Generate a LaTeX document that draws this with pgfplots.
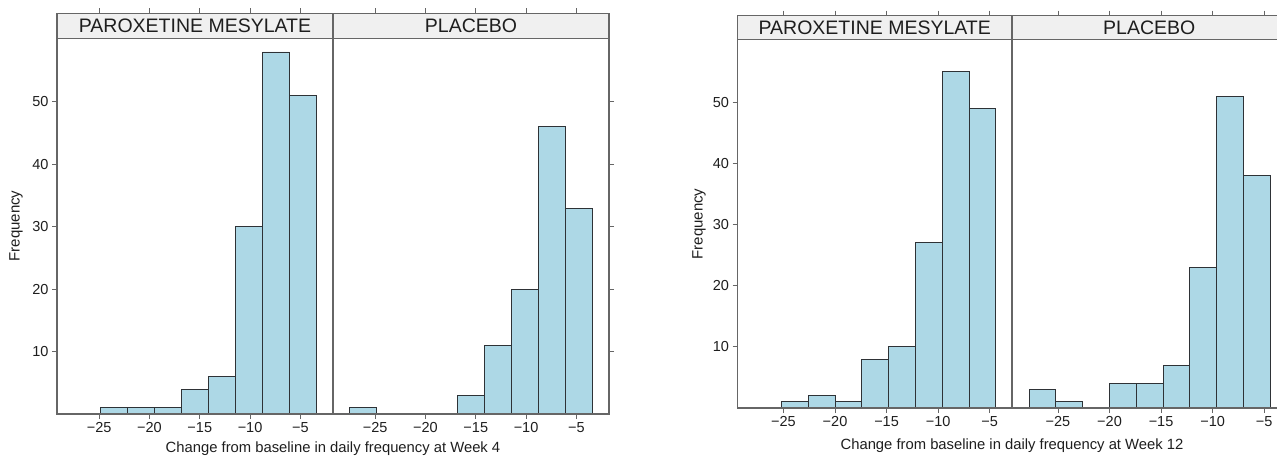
\documentclass[border=0pt]{standalone}
\usepackage{pgfplots}
\pgfplotsset{compat=1.18}
\usepackage{fontspec}
\setmainfont{Liberation Sans}
\definecolor{barfill}{HTML}{ADD8E6}
\definecolor{baredge}{HTML}{2E3236}
\definecolor{framegray}{HTML}{666666}
\definecolor{stripbg}{HTML}{F0F0F0}
\definecolor{txt}{HTML}{1E1E1E}
\pgfplotsset{
  panel/.style={scale only axis, axis on top, clip=false, anchor=south west,
    ymin=0,
    xtick={-25,-20,-15,-10,-5}, xticklabels={−25,−20,−15,−10,−5},
    ytick={10,20,30,40,50},
    tick align=outside, major tick length=5pt,
    tick style={draw=framegray, line width=0.9pt},
    axis line style={draw=framegray, line width=1.2pt},
    xtick pos=both, xticklabel pos=lower,
    tick label style={font=\fontsize{14.5}{17}\selectfont, text=txt}},
  leftpanel/.style={panel, ytick pos=left, yticklabel pos=left, yticklabels={10,20,30,40,50}},
  rightpanel/.style={panel, ytick pos=right, yticklabels={}},
  hist/.style={ybar interval, fill=barfill, draw=baredge, line width=0.9pt},
}
\newcommand\strip[3]{%
  \draw[draw=framegray, line width=1.2pt, fill=stripbg] (rel axis cs:0,#1) rectangle (rel axis cs:1,1);
  \node[font=\fontsize{19.5}{22}\selectfont, text=txt, inner sep=0pt] at (rel axis cs:0.5,#2) {#3};
}
\begin{document}
\begin{tikzpicture}
\path[use as bounding box] (0pt,0pt) rectangle (1277pt,456pt);
\begin{scope}
\clip (0pt,0pt) rectangle (1277pt,456pt);
% ---------- Week 4 ----------
\begin{axis}[leftpanel, at={(57pt,42pt)}, width=276pt, height=400.7pt,
  xmin=-29.2, xmax=-1.75, ymax=64.2]
\addplot[hist] coordinates {(-24.84,1) (-22.16,1) (-19.48,1) (-16.80,4) (-14.12,6) (-11.44,30) (-8.76,58) (-6.08,51) (-3.40,51)};
\strip{0.9377}{0.9688}{PAROXETINE MESYLATE}
\end{axis}
\begin{axis}[rightpanel, at={(333pt,42pt)}, width=276pt, height=400.7pt,
  xmin=-29.2, xmax=-1.75, ymax=64.2]
\addplot[hist] coordinates {(-27.52,1) (-24.84,1)};
\addplot[hist] coordinates {(-16.80,3) (-14.12,11) (-11.44,20) (-8.76,46) (-6.08,33) (-3.40,33)};
\strip{0.9377}{0.9688}{PLACEBO}
\end{axis}
\node[rotate=90, font=\fontsize{15}{18}\selectfont, text=txt] at (16pt,230pt) {Frequency};
\node[anchor=base, font=\fontsize{14.8}{18}\selectfont, text=txt] at (333pt,3.5pt) {Change from baseline in daily frequency at Week 4};
% ---------- Week 12 ----------
\begin{axis}[leftpanel, at={(737.5pt,48pt)}, width=274.5pt, height=392.3pt,
  xmin=-29.46, xmax=-2.83, ymax=64.17]
\addplot[hist] coordinates {(-25.2,1) (-22.6,2) (-20.0,1) (-17.4,8) (-14.8,10) (-12.2,27) (-9.6,55) (-7.0,49) (-4.4,49)};
\strip{0.9397}{0.9699}{PAROXETINE MESYLATE}
\end{axis}
\begin{axis}[rightpanel, at={(1012pt,48pt)}, width=274.5pt, height=392.3pt,
  xmin=-29.46, xmax=-2.83, ymax=64.17]
\addplot[hist] coordinates {(-27.8,3) (-25.2,1) (-22.6,1)};
\addplot[hist] coordinates {(-20.0,4) (-17.4,4) (-14.8,7) (-12.2,23) (-9.6,51) (-7.0,38) (-4.4,38)};
\strip{0.9397}{0.9699}{PLACEBO}
\end{axis}
\node[rotate=90, font=\fontsize{15}{18}\selectfont, text=txt] at (699pt,232pt) {Frequency};
\node[anchor=base, font=\fontsize{14.8}{18}\selectfont, text=txt] at (1012pt,7pt) {Change from baseline in daily frequency at Week 12};
\end{scope}
\end{tikzpicture}
\end{document}
